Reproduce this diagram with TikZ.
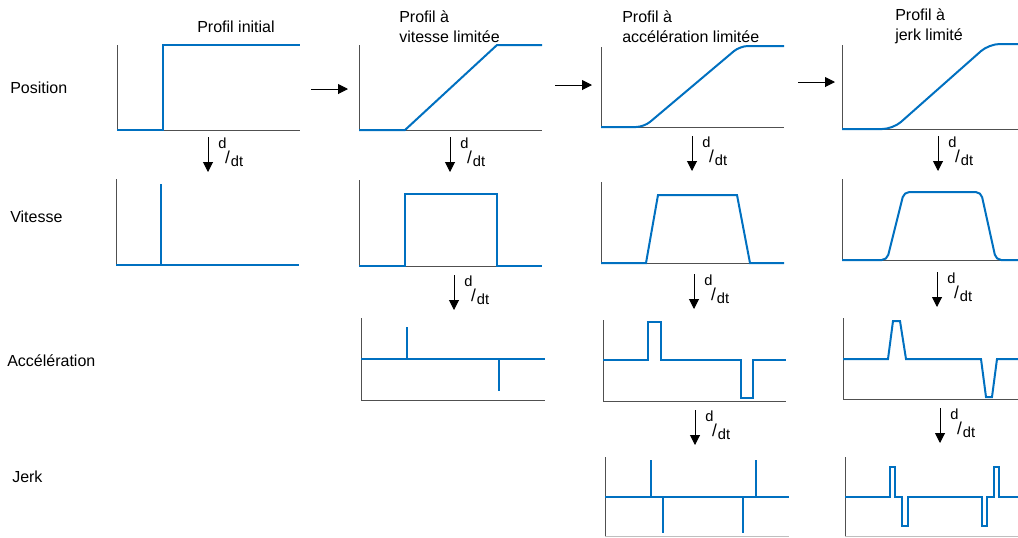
\documentclass[tikz,border=0pt]{standalone}
\usepackage{fontspec}
\setmainfont{Liberation Sans}
\usetikzlibrary{arrows.meta}
\definecolor{curve}{HTML}{0070C0}
\definecolor{axiscol}{HTML}{505050}
\newcommand{\dlab}{\raisebox{13pt}{d}\kern-1pt\raisebox{1.8pt}{\fontsize{13}{13}\selectfont/}\kern0.8pt dt}
\begin{document}
\begin{tikzpicture}[x=0.75pt,y=-0.75pt,
  axisline/.style={draw=axiscol, line width=0.75pt},
  faint/.style={draw=black!25, line width=0.75pt},
  sig/.style={draw=curve, line width=1.5pt, line join=miter},
  arr/.style={draw=black, line width=0.75pt, -{Triangle[length=7.5pt,width=7.5pt]}},
  rowlab/.style={anchor=base west, inner sep=0, font=\fontsize{12}{15}\selectfont},
  titlelab/.style={anchor=base west, inner sep=0, align=left, font=\fontsize{12}{15}\selectfont},
  dlabel/.style={anchor=base west, inner sep=0, font=\fontsize{11}{13}\selectfont}]
\useasboundingbox (0,0) rectangle (1018,537);

% ---- row labels
\node[rowlab] (lpos) at (10,93) {Position};
\node[rowlab] (lvit) at (10,222) {Vitesse};
\node[rowlab] (lacc) at (7,366) {Accélération};
\node[rowlab] (ljerk) at (12,482) {Jerk};

% ---- column titles (base anchor = baseline of last line)
\node[rowlab, anchor=base] (t1) at (236,32) {Profil initial};
\node[titlelab] (t2) at (399,42.5) {Profil à\\vitesse limitée};
\node[titlelab] (t3) at (622,42.5) {Profil à\\accélération limitée};
\node[titlelab] (t4) at (895,40.5) {Profil à\\jerk limité};

% ================= Column 1 : initial
\draw[axisline] (117,45) -- (117,130) -- (300,130);
\draw[sig] (117,130) -- (163,130) -- (163,45) -- (300,45);
\draw[axisline] (116,179) -- (116,265);
\draw[sig] (116,265) -- (299,265);
\draw[sig] (161,265) -- (161,184);

% ================= Column 2 : vitesse limitee
\draw[axisline] (359,45) -- (359,130) -- (542,130);
\draw[sig] (359,130) -- (405,130) -- (497,45) -- (542,45);
\draw[axisline] (359,180) -- (359,266) -- (542,266);
\draw[sig] (359,266) -- (405,266) -- (405,194) -- (497,194) -- (497,266) -- (542,266);
\draw[axisline] (361,318) -- (361,400) -- (545,400);
\draw[sig] (361,359) -- (545,359);
\draw[sig] (407,359) -- (407,327);
\draw[sig] (499,359) -- (499,391);

% ================= Column 3 : acceleration limitee
\draw[axisline] (601,47) -- (601,127) -- (784,127);
\draw[sig, rounded corners=6pt] (601,127) -- (644,127) -- (740,46) -- (784,46);
\draw[axisline] (601,182) -- (601,263) -- (784,263);
\draw[sig] (601,263) -- (646,263) -- (658,195) -- (737,195) -- (750,263) -- (784,263);
\draw[axisline] (603,320) -- (603,401) -- (786,401);
\draw[sig] (603,360) -- (648,360) -- (648,322) -- (661,322) -- (661,360) -- (741,360)
  -- (741,398) -- (753,398) -- (753,360) -- (786,360);
\draw[axisline] (605,457) -- (605,537);
\draw[faint] (605,536) -- (789,536);
\draw[sig] (605,497) -- (789,497);
\draw[sig] (651,497) -- (651,460);
\draw[sig] (663,497) -- (663,533);
\draw[sig] (743,497) -- (743,533);
\draw[sig] (756,497) -- (756,460);

% ================= Column 4 : jerk limite
\draw[axisline] (842,45) -- (842,129) -- (1018,129);
\draw[sig, rounded corners=8pt] (842,129) -- (893,129) -- (989,44) -- (1018,44);
\draw[axisline] (842,179) -- (842,260) -- (1018,260);
\draw[sig, rounded corners=4pt] (842,260) -- (887,260) -- (904,192) -- (981,192) -- (996,260) -- (1018,260);
\draw[axisline] (843,318) -- (843,399) -- (1018,399);
\draw[sig] (843,359) -- (888,359) -- (893,321) -- (900,321) -- (906,359) -- (981,359)
  -- (986,397) -- (992,397) -- (997,359) -- (1018,359);
\draw[axisline] (845,457) -- (845,537);
\draw[faint] (845,536) -- (1018,536);
\draw[sig] (845,497) -- (890,497) -- (890,467) -- (895,467) -- (895,497) -- (902,497)
  -- (902,526) -- (908,526) -- (908,497) -- (982,497) -- (982,526) -- (987,526)
  -- (987,497) -- (994,497) -- (994,467) -- (999,467) -- (999,497) -- (1018,497);

% ================= horizontal arrows between columns
\coordinate (h1a) at (311,89);  \coordinate (h1b) at (348,89);
\coordinate (h2a) at (555,85);  \coordinate (h2b) at (592,85);
\coordinate (h3a) at (798,82);  \coordinate (h3b) at (835,82);
\draw[arr] (h1a) -- (h1b);
\draw[arr] (h2a) -- (h2b);
\draw[arr] (h3a) -- (h3b);

% ================= derivative arrows
\foreach \n/\x/\y in {a/208/137, b/450/137, c/692/136, d/938/136,
                      e/454/275, f/694/274, g/937/272,
                      h/695/410, i/940/408}{
  \coordinate (d\n t) at (\x,\y);
  \coordinate (d\n b) at (\x,\y+35);
  \draw[arr] (d\n t) -- (d\n b);
  \node[dlabel] (dl\n) at ([shift={(10,29)}]d\n t) {\dlab};
}
\end{tikzpicture}
\end{document}
